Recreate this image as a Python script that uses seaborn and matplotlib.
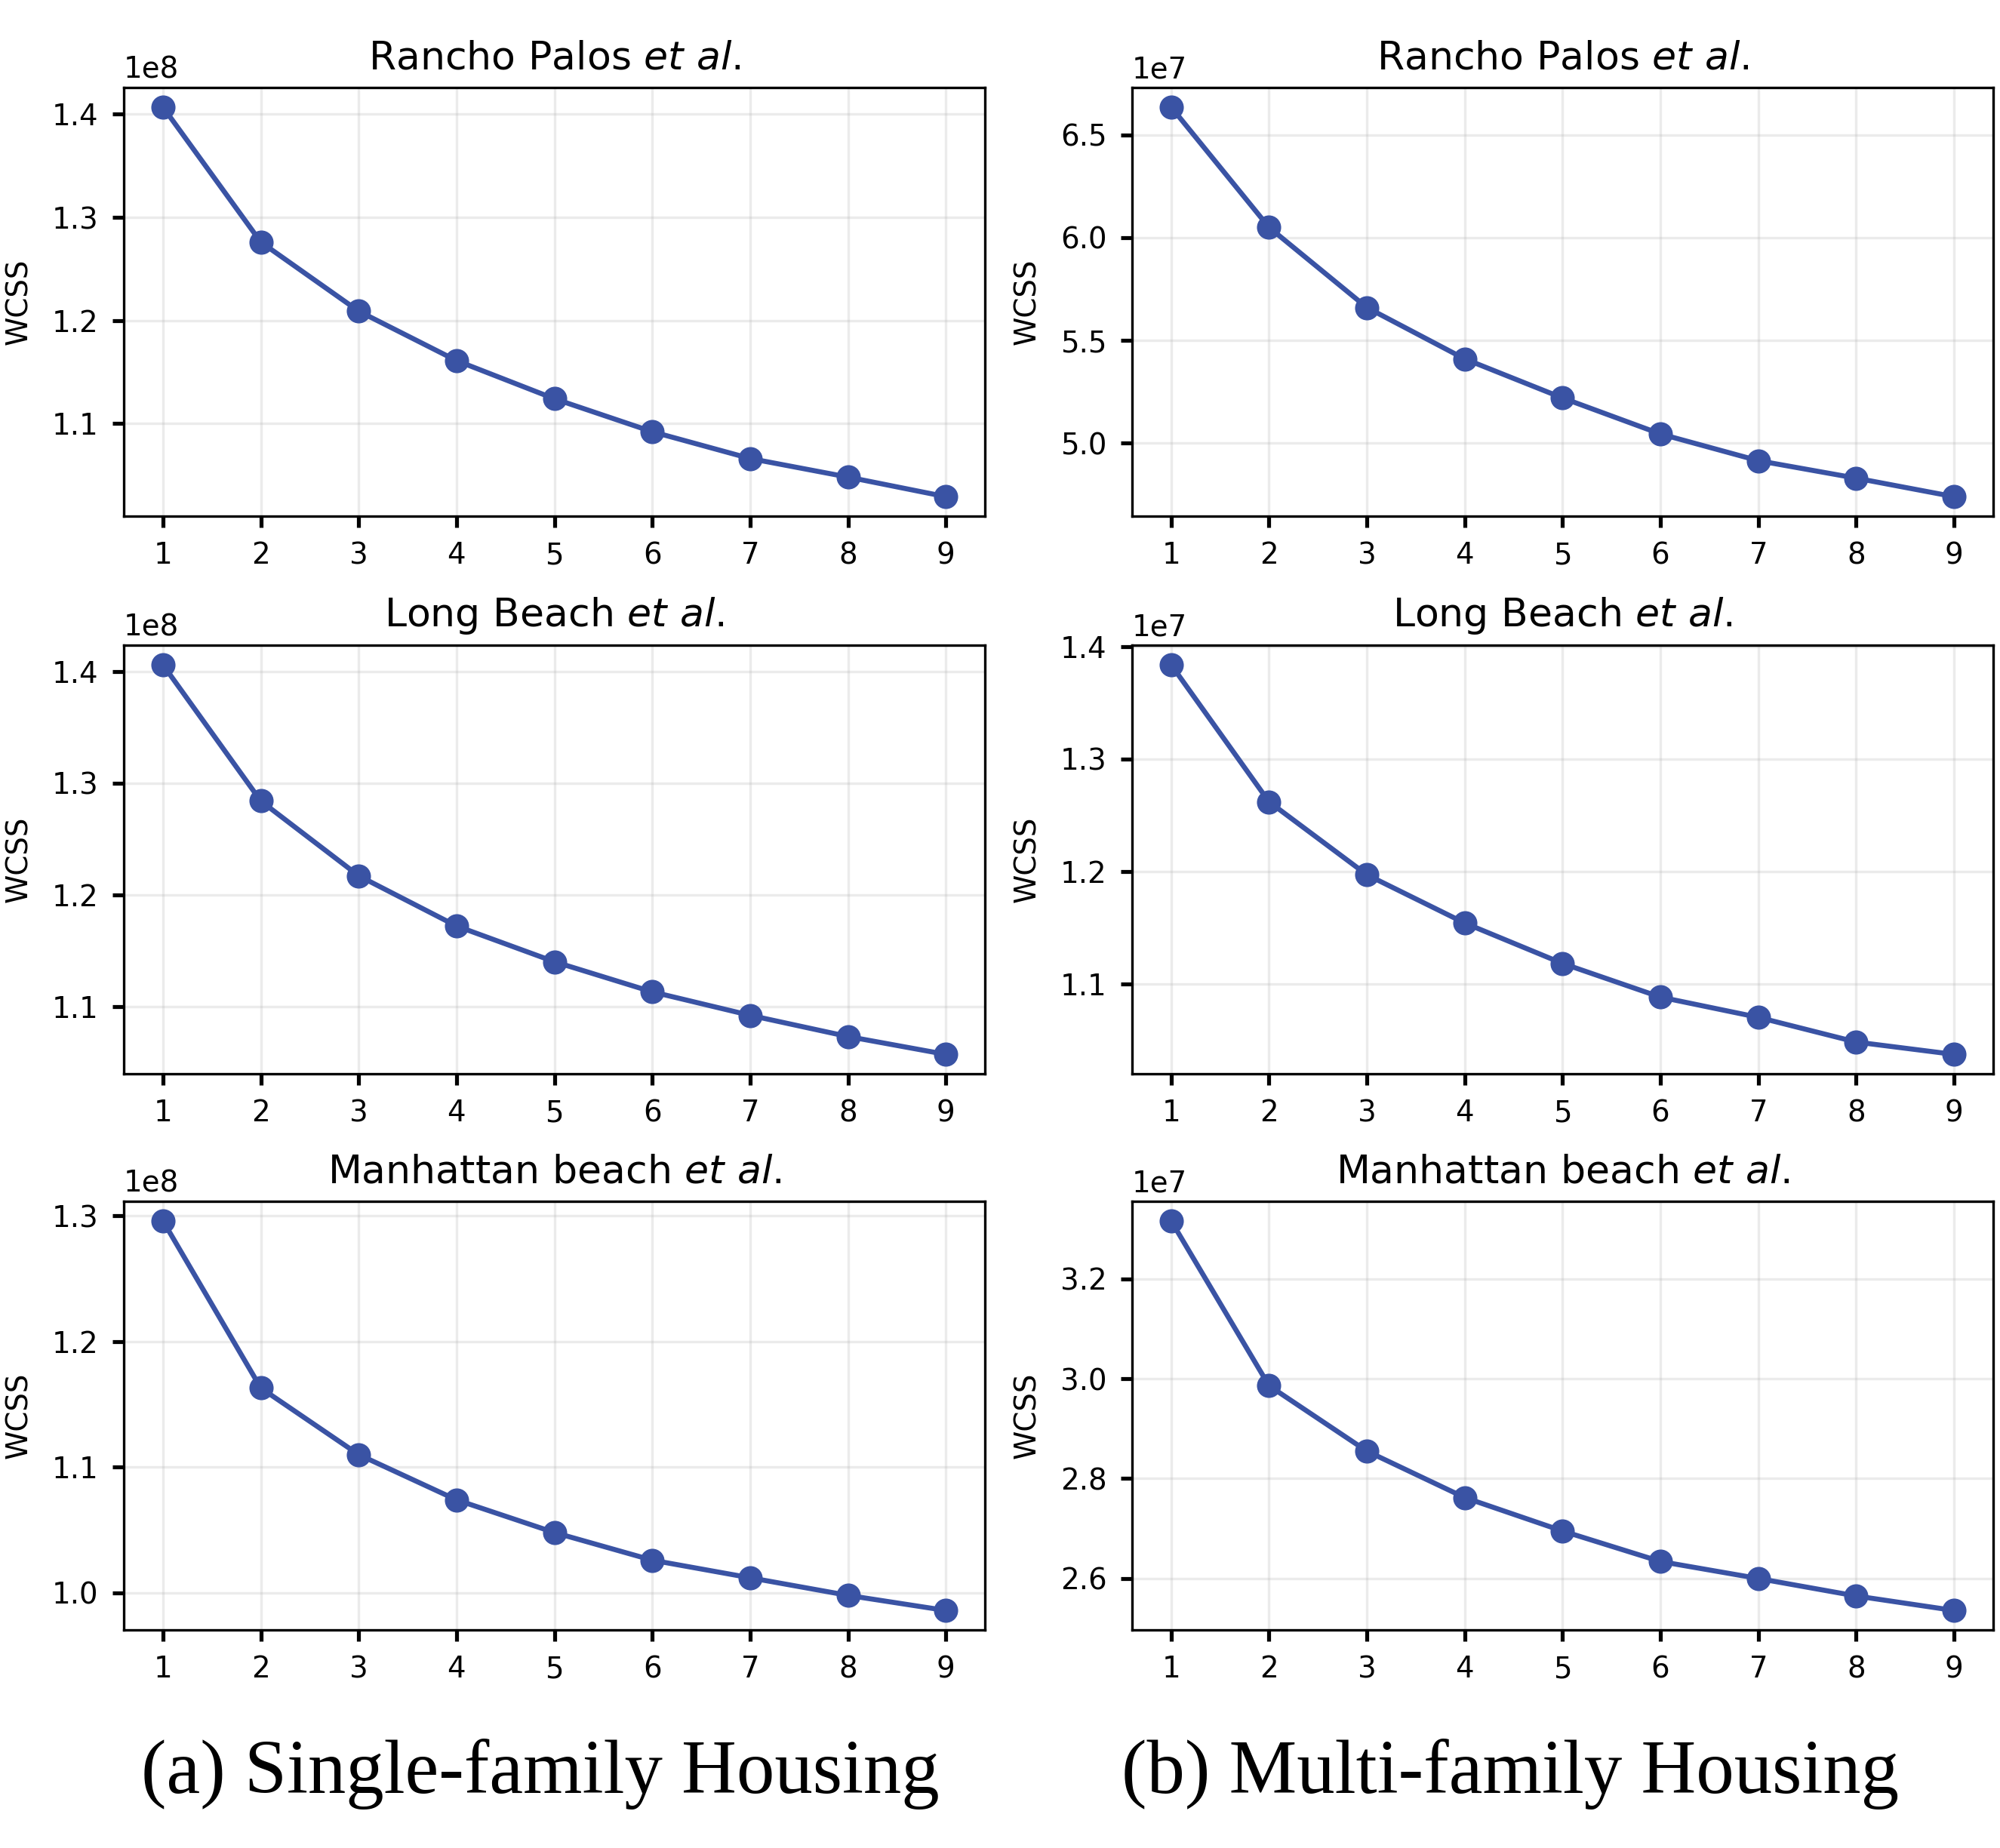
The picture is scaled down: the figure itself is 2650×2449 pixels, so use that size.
import matplotlib
matplotlib.use("Agg")
import matplotlib.pyplot as plt
from matplotlib.ticker import MultipleLocator
import seaborn as sns
import pandas as pd

# number of clusters k
clusters = [1, 2, 3, 4, 5, 6, 7, 8, 9]

# single-family housing, WCSS
sf_rancho = [1.407e8, 1.276e8, 1.209e8, 1.161e8, 1.124e8, 1.092e8, 1.066e8, 1.048e8, 1.029e8]
sf_long = [1.406e8, 1.284e8, 1.217e8, 1.172e8, 1.140e8, 1.113e8, 1.092e8, 1.073e8, 1.057e8]
sf_manhattan = [1.296e8, 1.163e8, 1.110e8, 1.074e8, 1.048e8, 1.026e8, 1.012e8, 0.998e8, 0.986e8]

# multi-family housing, WCSS
mf_rancho = [6.635e7, 6.05e7, 5.66e7, 5.41e7, 5.22e7, 5.045e7, 4.915e7, 4.83e7, 4.74e7]
mf_long = [1.384e7, 1.262e7, 1.197e7, 1.154e7, 1.118e7, 1.088e7, 1.070e7, 1.048e7, 1.037e7]
mf_manhattan = [3.316e7, 2.986e7, 2.855e7, 2.762e7, 2.695e7, 2.634e7, 2.600e7, 2.565e7, 2.536e7]

# y tick spacing per panel (column, row)
sf_steps = [0.1e8, 0.1e8, 0.1e8]
mf_steps = [0.5e7, 0.1e7, 0.2e7]

titles = [r"Rancho Palos $\it{et\ al}$.",
          r"Long Beach $\it{et\ al}$.",
          r"Manhattan beach $\it{et\ al}$."]
captions = ["(a) Single-family Housing", "(b) Multi-family Housing"]

line_color = "#3A53A4"

sns.set_theme(style="ticks", rc={
    "axes.edgecolor": "black",
    "axes.linewidth": 0.8,
    "xtick.major.size": 3.5,
    "ytick.major.size": 3.5,
    "xtick.major.pad": 4.5,
    "ytick.major.pad": 4.5,
    "text.color": "black",
    "axes.labelcolor": "black",
    "xtick.color": "black",
    "ytick.color": "black",
})
plt.rcParams["font.family"] = ["DejaVu Sans"]
plt.rcParams["mathtext.fontset"] = "dejavusans"

fig = plt.figure(figsize=(2650 / 300, 2449 / 300), dpi=300)

cols = [[sf_rancho, sf_long, sf_manhattan], [mf_rancho, mf_long, mf_manhattan]]
steps = [sf_steps, mf_steps]
lefts = [0.0619, 0.566]
bottoms = [0.7207, 0.4189, 0.118]
w, h = 0.4306, 0.2319

for c, series in enumerate(cols):
    for r, vals in enumerate(series):
        ax = fig.add_axes([lefts[c], bottoms[r], w, h])
        df = pd.DataFrame({"k": clusters, "wcss": vals})
        sns.lineplot(data=df, x="k", y="wcss", ax=ax, color=line_color,
                     marker="o", markersize=7.2, linewidth=1.6,
                     markeredgecolor=line_color, markeredgewidth=0.5)
        ax.set_xticks(clusters)
        ax.yaxis.set_major_locator(MultipleLocator(steps[c][r]))
        ax.grid(True, color="#b0b0b0", alpha=0.25, linewidth=0.8)
        ax.set_axisbelow(True)
        ax.set_xlabel("")
        ax.set_ylabel("WCSS", fontsize=9.3, labelpad=6)
        ax.set_title(titles[r], fontsize=12.5)
        ax.tick_params(labelsize=9.3)
        ax.yaxis.get_offset_text().set_fontsize(9.3)

fig.text(0.27, 0.030, captions[0], ha="center", va="baseline",
         family="Liberation Serif", fontsize=24.2)
fig.text(0.755, 0.030, captions[1], ha="center", va="baseline",
         family="Liberation Serif", fontsize=24.2)

fig.savefig("out.png", dpi=300, facecolor="white")
